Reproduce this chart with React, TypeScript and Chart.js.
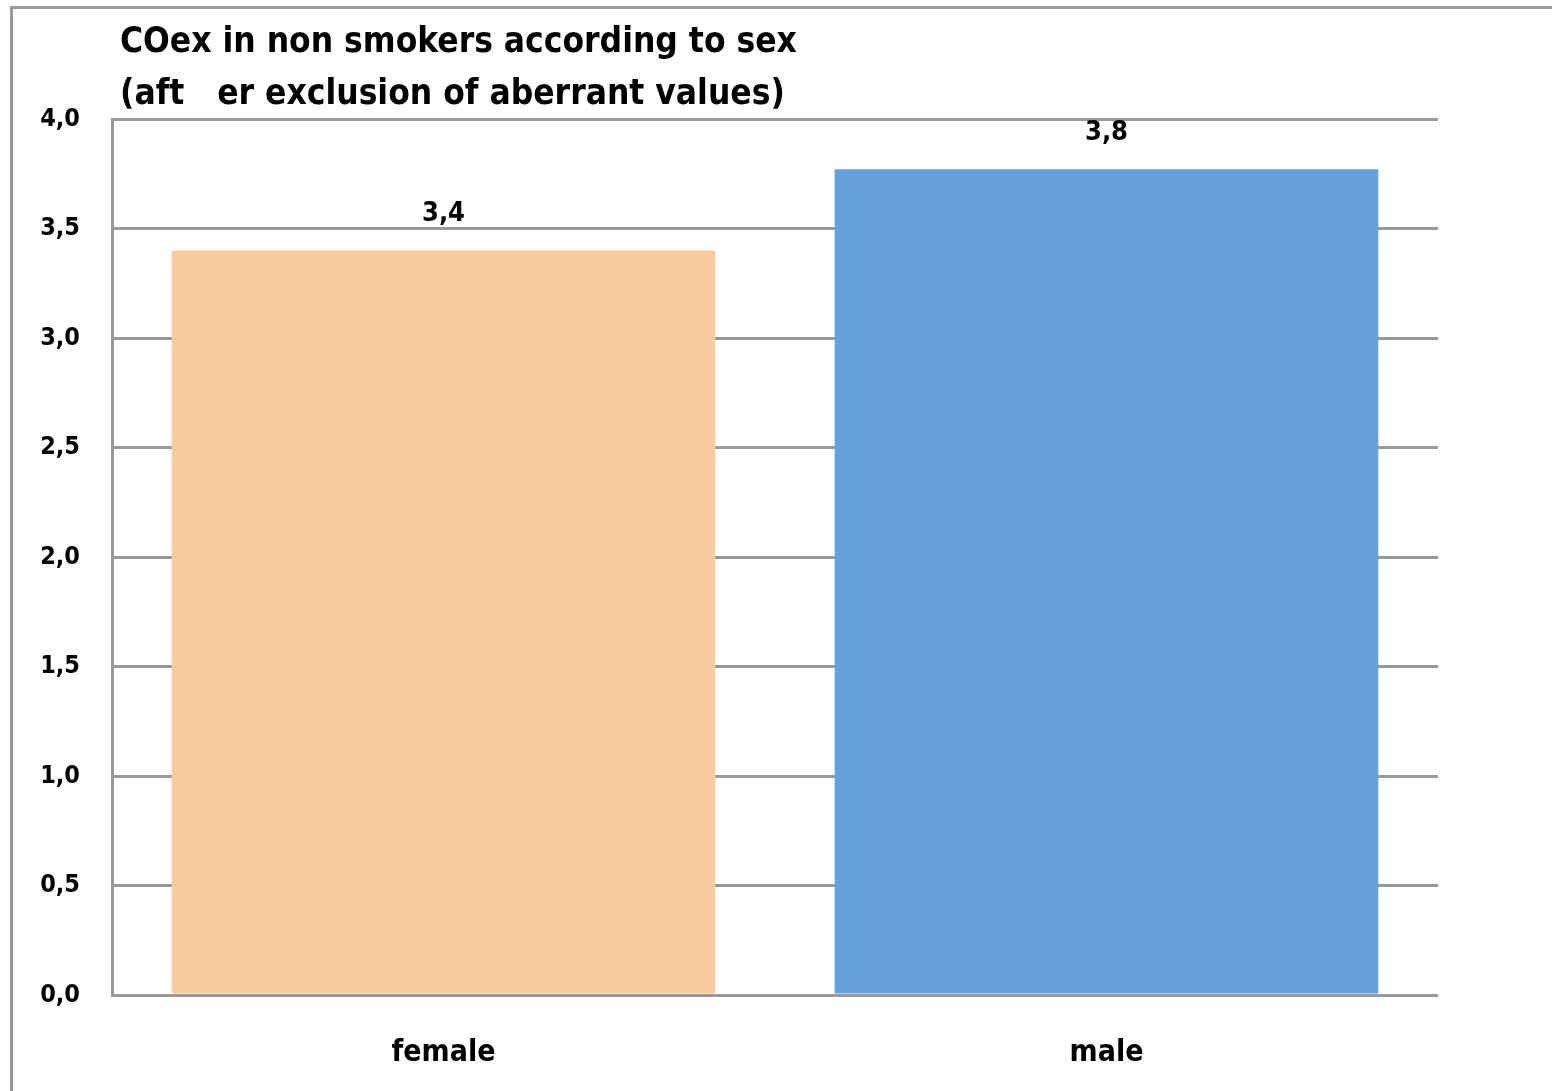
import React, { useEffect, useRef } from "react";
import { Chart, registerables } from "chart.js";

Chart.register(...registerables);

const categories = ["female", "male"];
const values = [3.4, 3.77];
const valueLabels = ["3,4", "3,8"];
const barColors = ["#F9CB9F", "#66A1DC"];
const titleLines = ["COex in non smokers according to sex", "(aft   er exclusion of aberrant values)"];
const yMin = 0;
const yMax = 4;
const yStep = 0.5;

const FONT = '"Liberation Sans Narrow", "DejaVu Sans Condensed", "Open Sans", sans-serif';
const GRID = "#999999";

export default function App() {
  const ref = useRef<HTMLCanvasElement | null>(null);

  useEffect(() => {
    document.body.style.margin = "0";
    const canvas = ref.current;
    if (!canvas) return;

    const framePlugin = {
      id: "frame",
      beforeDraw(chart: any) {
        const ctx = chart.ctx;
        ctx.save();
        ctx.fillStyle = "#ffffff";
        ctx.fillRect(0, 0, chart.width, chart.height);
        ctx.fillStyle = GRID;
        ctx.fillRect(10, 6, chart.width - 10, 3);
        ctx.fillRect(10, 6, 3, chart.height - 6);
        ctx.restore();
      },
      afterDraw(chart: any) {
        const ctx = chart.ctx;
        ctx.save();
        ctx.fillStyle = "#000";
        ctx.textAlign = "left";
        ctx.textBaseline = "middle";
        ctx.font = `bold 35px ${FONT}`;
        ctx.fillText(titleLines[0], 120, 43);
        ctx.fillText(titleLines[1], 120, 95);
        // value labels
        const meta = chart.getDatasetMeta(0);
        ctx.textAlign = "center";
        ctx.font = `bold 27px ${FONT}`;
        meta.data.forEach((bar: any, i: number) => {
          ctx.fillText(valueLabels[i], bar.x, bar.y - 36);
        });
        ctx.restore();
      },
    };

    const chart = new Chart(canvas, {
      type: "bar",
      data: {
        labels: categories,
        datasets: [
          {
            data: values,
            backgroundColor: barColors,
            borderWidth: 0,
            barPercentage: 0.82,
            categoryPercentage: 1,
          },
        ],
      },
      options: {
        animation: false,
        responsive: false,
        maintainAspectRatio: false,
        layout: { padding: { left: 0, top: 119, right: 114, bottom: 0 } },
        plugins: {
          legend: { display: false },
          title: { display: false },
          tooltip: { enabled: false },
        },
        scales: {
          x: {
            grid: { display: false, drawTicks: false },
            border: { display: false },
            ticks: {
              color: "#000",
              font: { family: FONT, size: 30, weight: "bold" },
              padding: 40,
            },
            afterFit(scale: any) {
              scale.height = 96;
            },
          },
          y: {
            min: yMin,
            max: yMax,
            grid: { color: GRID, lineWidth: 3, drawTicks: false },
            border: { display: true, color: GRID, width: 3 },
            ticks: {
              stepSize: yStep,
              color: "#000",
              font: { family: FONT, size: 25, weight: "bold" },
              padding: 32,
              callback: (v: any) => Number(v).toFixed(1).replace(".", ","),
            },
            afterFit(scale: any) {
              scale.width = 112;
            },
          },
        },
      },
      plugins: [framePlugin],
    });
    return () => chart.destroy();
  }, []);

  return (
    <div style={{ position: "fixed", left: 0, top: 0, width: 1552, height: 1091 }}>
      <canvas ref={ref} width={1552} height={1091} style={{ width: 1552, height: 1091 }} />
    </div>
  );
}
